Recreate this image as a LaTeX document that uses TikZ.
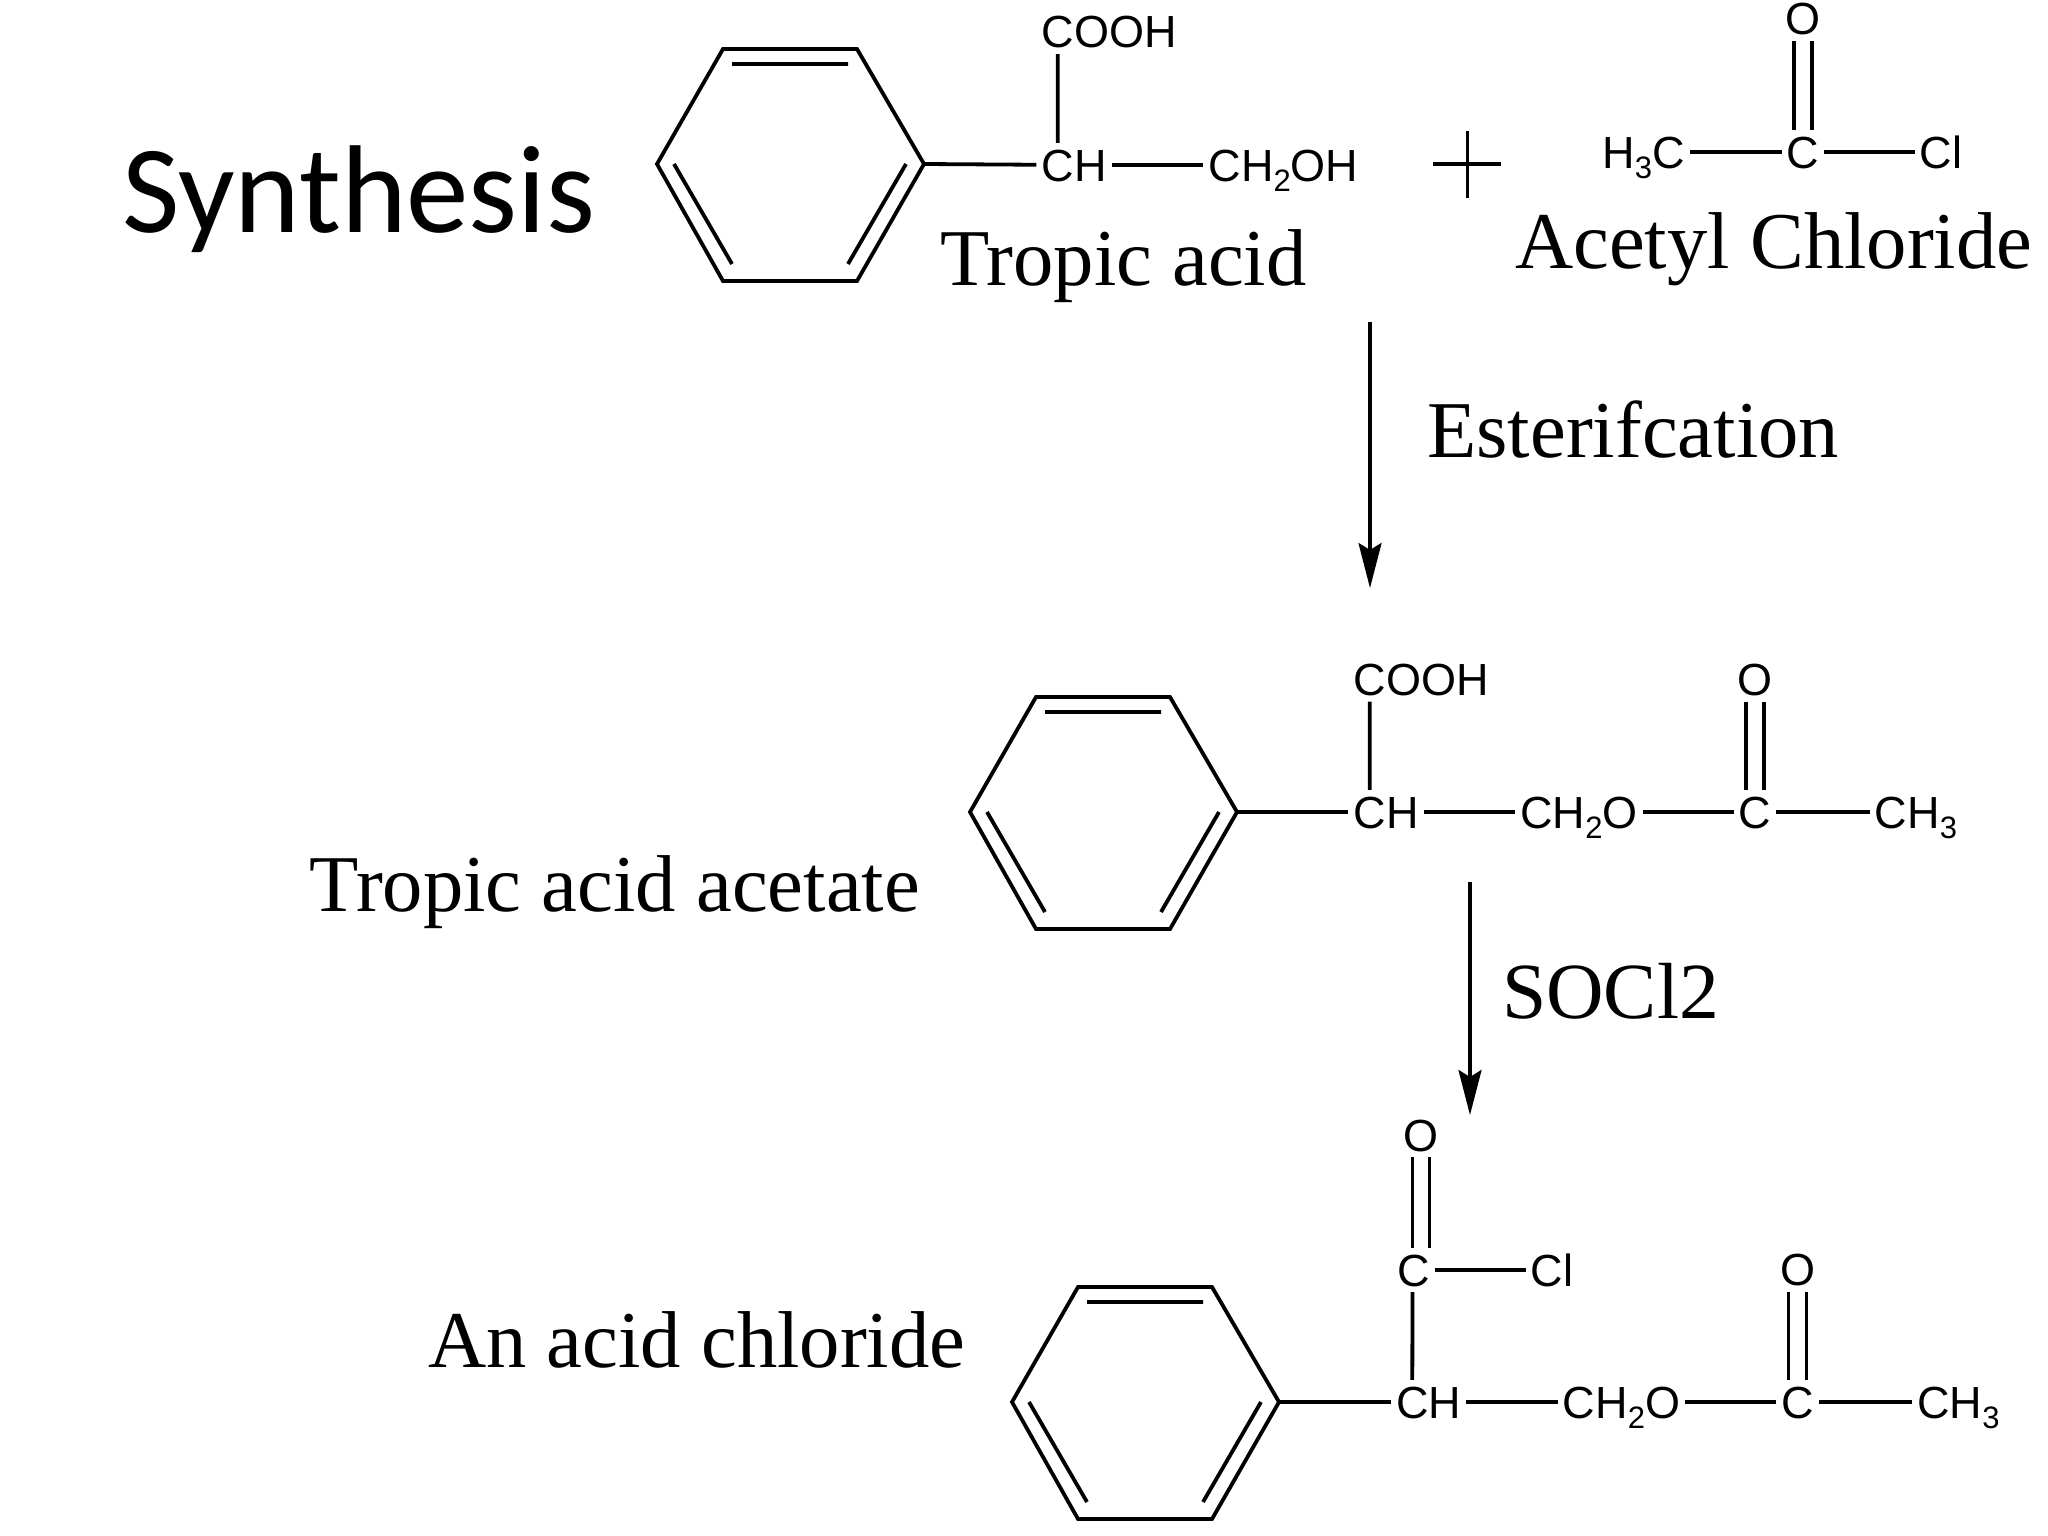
\documentclass[tikz,border=0pt]{standalone}
\usepackage{fontspec}
\setmainfont{Liberation Serif}
\newfontfamily\atomfont{Liberation Sans}
\newfontfamily\titlefont{Carlito}
\usetikzlibrary{arrows.meta}
\newcommand{\sbs}[1]{\raisebox{-10pt}{\fontsize{31}{31}\selectfont #1}}
\tikzset{
  bond/.style={line width=3.8pt},
  atom/.style={font=\atomfont\fontsize{45}{45}\selectfont, inner xsep=5pt, inner ysep=6pt, text height=32pt, text depth=0pt},
  label/.style={font=\fontsize{80.6}{80.6}\selectfont, anchor=base west, inner sep=0pt},
  rarrow/.style={line width=3.4pt, -{Stealth[length=45pt,width=23pt,inset=7pt]}}
}
\begin{document}
\begin{tikzpicture}[x=1pt,y=-1pt]
\useasboundingbox (0,0) rectangle (2048,1536);
% phenyl rings
\foreach \n/\dx/\dy in {a/0/0,b/313/648,c/355/1238}{
\begin{scope}[shift={(\dx,\dy)}]
\coordinate (ring\n) at (924,164);
\draw[bond, line join=miter] (657,164) -- (723,49) -- (857,49) -- (ring\n) -- (857,281) -- (723,281) -- cycle;
\draw[bond] (732,64) -- (848,64) (674,164) -- (732,264) (906,164) -- (848,264);
\end{scope}
}
\node[label, font=\titlefont\fontsize{125}{125}\selectfont] (title) at (122,232) {Synthesis};
% tropic acid
\node[atom] (cha) at (1074,165) {CH};
\node[atom] (cooha) at (1109,32) {COOH};
\node[atom] (choh) at (1283.5,165) {CH\sbs{2}OH};
\draw[bond] (ringa) -- (cha);
\draw[bond] (cha) -- (choh);
\draw[bond] ([xshift=21.5pt]cha.north west) -- ([xshift=21.5pt]cooha.south west);
\node[label] (tropic) at (940,285) {Tropic acid};
% plus
\coordinate (pl) at (1433,164);
\coordinate (pr) at (1501,164);
\coordinate (pt) at (1467,131);
\coordinate (pb) at (1467,198);
\draw[line width=3pt] (pl) -- (pr) (pt) -- (pb);
% acetyl chloride
\node[atom] (hc) at (1643.5,152) {H\sbs{3}C};
\node[atom] (cc) at (1803,152) {C};
\node[atom] (cl) at (1941,152) {Cl};
\node[atom] (oc) at (1803,19) {O};
\draw[bond] (hc) -- (cc);
\draw[bond] (cc) -- (cl);
\draw[bond] ([xshift=-9pt]cc.north) -- ([xshift=-9pt]oc.south);
\draw[bond] ([xshift=9pt]cc.north) -- ([xshift=9pt]oc.south);
\node[label] (acetyl) at (1515,268) {Acetyl Chloride};
% first step
\coordinate (sa) at (1370,322);
\coordinate (ea) at (1370,588);
\draw[rarrow] (sa) -- (ea);
\node[label] (ester) at (1427,457) {Esterifcation};
% shared chain of the last two molecules
\foreach \n/\dx/\dy in {b/0/0,c/42.5/590}{
\begin{scope}[shift={(\dx,\dy)}]
\node[atom] (ch\n) at (1386,812) {CH};
\node[atom] (cho\n) at (1579,812) {CH\sbs{2}O};
\node[atom] (co\n) at (1755,812) {C};
\node[atom] (me\n) at (1916,812) {CH\sbs{3}};
\node[atom] (o\n) at (1755,679.5) {O};
\draw[bond] (ring\n) -- (ch\n);
\draw[bond] (ch\n) -- (cho\n);
\draw[bond] (cho\n) -- (co\n);
\draw[bond] (co\n) -- (me\n);
\draw[bond] ([xshift=-9pt]co\n.north) -- ([xshift=-9pt]o\n.south);
\draw[bond] ([xshift=9pt]co\n.north) -- ([xshift=9pt]o\n.south);
\end{scope}
}
% tropic acid acetate
\node[atom] (coohb) at (1421,679.5) {COOH};
\draw[bond] ([xshift=21.5pt]chb.north west) -- ([xshift=21.5pt]coohb.south west);
\node[label] (acetate) at (309.5,911.5) {Tropic acid acetate};
% second step
\coordinate (sb) at (1470,882);
\coordinate (eb) at (1470,1115);
\draw[rarrow] (sb) -- (eb);
\node[label, font=\fontsize{79.6}{79.6}\selectfont] (socl) at (1502,1018.5) {SOCl2};
% acid chloride
\node[atom] (cd) at (1413.5,1270) {C};
\node[atom] (od) at (1421,1135) {O};
\node[atom] (cld) at (1552,1270) {Cl};
\draw[bond] (cd) -- (cld);
\draw[bond] ([xshift=21.5pt]chc.north west) -- ([xshift=-1pt]cd.south);
\draw[bond] ([xshift=-8.5pt]od.south) -- ([xshift=-1pt]cd.north);
\draw[bond] ([xshift=8.5pt]od.south) -- ([xshift=16pt]cd.north);
\node[label] (chloride) at (428,1367) {An acid chloride};
\end{tikzpicture}
\end{document}
